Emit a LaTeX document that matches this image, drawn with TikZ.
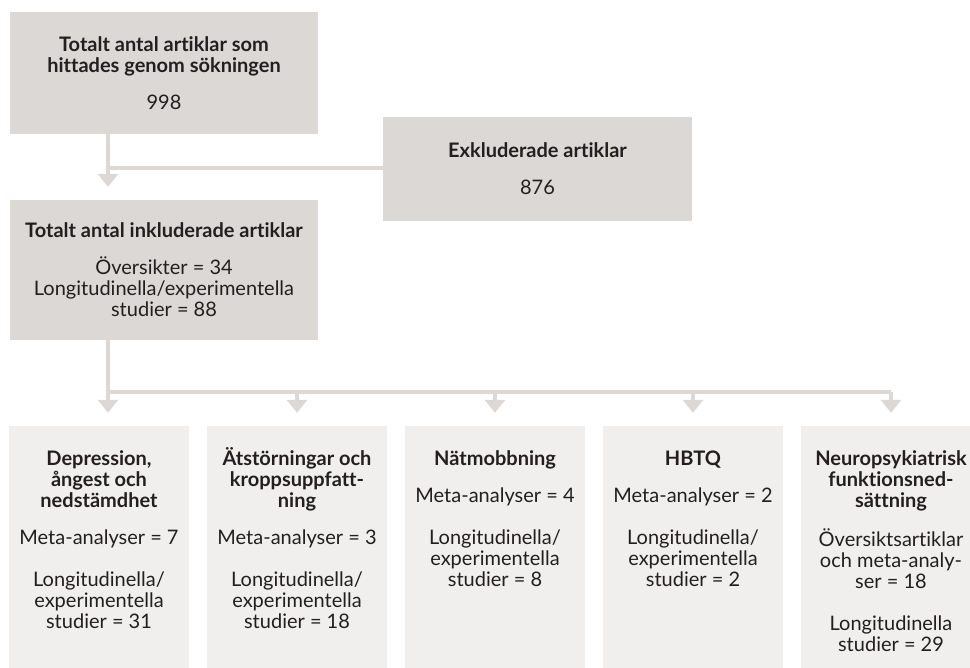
\documentclass[tikz,border=0pt]{standalone}
\usepackage{fontspec}
\setmainfont{Lato}[Ligatures={NoCommon}]
\usetikzlibrary{arrows.meta, positioning}
\definecolor{boxgray}{HTML}{DCD8D5}
\definecolor{boxlight}{HTML}{F0EFEE}
\definecolor{textdark}{HTML}{231F20}

% text block of a category box, set from the top
\newcommand{\catbody}[1]{\parbox[c][252pt][t]{180pt}{\centering\fontsize{20}{21}\selectfont\vspace*{19pt}\rule{0pt}{21pt}#1}}

\tikzset{
  mainbox/.style={fill=boxgray, minimum width=308pt, inner sep=0pt, align=center,
    text=textdark, font=\fontsize{20}{21}\selectfont},
  catbox/.style={fill=boxlight, inner sep=0pt, text=textdark},
  flowline/.style={draw=boxgray, line width=4pt},
  flowarrow/.style={flowline, -{Triangle[width=20pt, length=13pt]}, shorten >=13pt},
}

\begin{document}
\begin{tikzpicture}[x=1pt, y=1pt]
    \useasboundingbox (0,0) rectangle (970,668);
    \node [mainbox, minimum height=122pt] at (164,595) (found)
        {\textbf{Totalt antal artiklar som}\\\textbf{hittades genom sökningen}\\[16pt]998};
    \node [mainbox, minimum width=309pt, minimum height=104pt] at (537.5,499) (excl)
        {\textbf{Exkluderade artiklar}\\[16pt]876};
    \node [mainbox, minimum height=140pt, below of=found, node distance=197pt] (incl)
        {\textbf{Totalt antal inkluderade artiklar}\\[16pt]Översikter = 34\\
         Longitudinella/experimentella\\studier = 88};

    \node [catbox] at (99,116) (dep)
        {\catbody{\textbf{Depression,}\\\textbf{ångest och}\\\textbf{nedstämdhet}\\[16pt]
         Meta-analyser = 7\\[21pt]Longitudinella/\\experimentella\\studier = 31}};
    \node [catbox, right of=dep, node distance=198pt] (ats)
        {\catbody{\textbf{Ätstörningar och}\\\textbf{kroppsuppfatt-}\\\textbf{ning}\\[16pt]
         Meta-analyser = 3\\[21pt]Longitudinella/\\experimentella\\studier = 18}};
    \node [catbox, right of=ats, node distance=198pt] (nat)
        {\catbody{\textbf{Nätmobbning}\\[16pt]
         Meta-analyser = 4\\[21pt]Longitudinella/\\experimentella\\studier = 8}};
    \node [catbox, right of=nat, node distance=198pt] (hbtq)
        {\catbody{\textbf{HBTQ}\\[16pt]
         Meta-analyser = 2\\[21pt]Longitudinella/\\experimentella\\studier = 2}};
    \node [catbox, right of=hbtq, node distance=198pt] (neuro)
        {\catbody{\textbf{Neuropsykiatrisk}\\\textbf{funktionsned-}\\\textbf{sättning}\\[16pt]
         Översiktsartiklar\\och meta-analy-\\ser = 18\\[21pt]Longitudinella\\studier = 29}};

    \coordinate (split1) at (108,500);
    \coordinate (split2) at (108,276);

    \draw [flowarrow] (found.south -| split1) -- (incl.north -| split1);
    \draw [flowline] (split1) -- (split1 -| excl.west);
    \draw [flowarrow] (incl.south -| split2) -- (dep.north -| split2);
    \draw [flowline] (split2) -- (split2 -| neuro.north);
    \foreach \n in {ats, nat, hbtq, neuro}
        \draw [flowarrow] (split2 -| \n.north) -- (\n.north);
\end{tikzpicture}
\end{document}
